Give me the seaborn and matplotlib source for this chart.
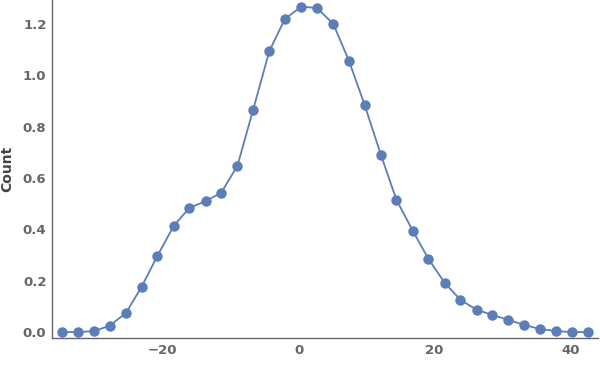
import matplotlib
matplotlib.use("Agg")
import matplotlib.pyplot as plt
from matplotlib.ticker import MultipleLocator
import seaborn as sns
import pandas as pd

x_values = [-34.8, -32.5, -30.1, -27.8, -25.4, -23.1, -20.8, -18.4, -16.1, -13.7,
            -11.4, -9.0, -6.7, -4.3, -2.0, 0.4, 2.7, 5.1, 7.4, 9.7,
            12.1, 14.4, 16.8, 19.1, 21.5, 23.8, 26.2, 28.5, 30.8, 33.2,
            35.5, 37.9, 40.2, 42.6]
counts = [0.0, 0.0, 0.004, 0.025, 0.075, 0.177, 0.296, 0.413, 0.483, 0.510,
          0.542, 0.648, 0.865, 1.095, 1.220, 1.267, 1.262, 1.200, 1.057, 0.886,
          0.691, 0.515, 0.395, 0.285, 0.192, 0.126, 0.087, 0.067, 0.048, 0.028,
          0.012, 0.004, 0.0, 0.0]
x_ticks = [-20, 0, 20, 40]
y_ticks = [0.0, 0.2, 0.4, 0.6, 0.8, 1.0, 1.2]
y_label = "Count"

sns.set_style("white")
plt.rcParams['font.family'] = ['DejaVu Sans']

df = pd.DataFrame({"x": x_values, "Count": counts})

fig = plt.figure(figsize=(6.0, 3.83), dpi=100)
ax = fig.add_axes([0.0867, 0.1175, 0.9103, 0.8825])
color = "#5B7DB8"
sns.lineplot(data=df, x="x", y="Count", ax=ax, color=color, linewidth=1.3,
             marker="o", markersize=7.5, markeredgewidth=0, markerfacecolor=color)

ax.set_xlim(-36.3, 44.1)
ax.set_ylim(-0.023, 1.293)
ax.set_xticks(x_ticks)
ax.set_yticks(y_ticks)
ax.set_yticklabels([f"{v:.1f}" for v in y_ticks])
ax.set_xticklabels([("\u2212" + str(abs(v))) if v < 0 else str(v) for v in x_ticks])
ax.xaxis.set_minor_locator(MultipleLocator(5))
ax.yaxis.set_minor_locator(MultipleLocator(0.05))

gray = "#666666"
for side in ["top", "right"]:
    ax.spines[side].set_visible(False)
for side in ["left", "bottom"]:
    ax.spines[side].set_color(gray)
    ax.spines[side].set_linewidth(1.0)

ax.tick_params(axis="both", which="major", direction="in", length=4, width=0.8,
               color=gray, labelcolor=gray, labelsize=9.5, pad=4)
ax.tick_params(axis="both", which="minor", direction="in", length=2.5, width=0.6,
               color=gray)
for lbl in ax.get_xticklabels() + ax.get_yticklabels():
    lbl.set_fontweight("bold")

ax.set_xlabel("")
ax.set_ylabel(y_label, color="#444444", fontsize=10, fontweight="bold", labelpad=6)

fig.savefig("out.png", dpi=100)
